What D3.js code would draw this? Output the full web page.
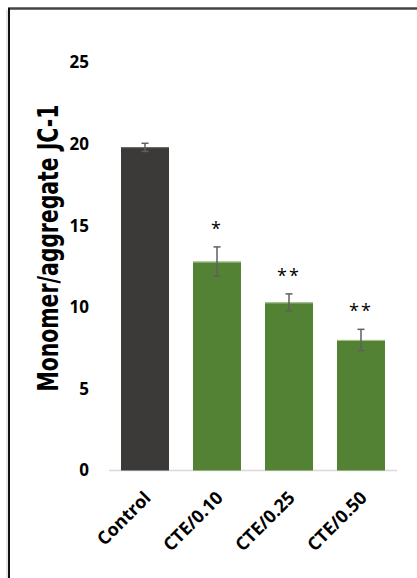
<!DOCTYPE html>
<html>
<head>
<meta charset="utf-8">
<script src="https://cdn.jsdelivr.net/npm/d3@7"></script>
<style>
  body { margin: 0; background: #fff; }
  text { font-family: "Open Sans", "Noto Sans", sans-serif; }
</style>
</head>
<body>
<script>
var w = 417;
var h = 578;

var categories = ["Control", "CTE/0.10", "CTE/0.25", "CTE/0.50"];
var values = [19.8, 12.8, 10.3, 8.0];
var errors = [0.25, 0.9, 0.52, 0.65];
var marks = ["", "*", "**", "**"];
var yTicks = [0, 5, 10, 15, 20, 25];

var svg = d3.select("body")
    .append("svg")
    .attr("width", w)
    .attr("height", h);

// chart frame (cropped on the right and bottom)
svg.append("line")
    .attr("x1", 8).attr("x2", w)
    .attr("y1", 8.5).attr("y2", 8.5)
    .attr("stroke", "#444").attr("stroke-width", 2.5);
svg.append("line")
    .attr("x1", 9).attr("x2", 9)
    .attr("y1", 8).attr("y2", h)
    .attr("stroke", "#111").attr("stroke-width", 2);
svg.append("line")
    .attr("x1", 7).attr("x2", 7)
    .attr("y1", 10).attr("y2", h)
    .attr("stroke", "#ccc").attr("stroke-width", 1);

var xScale = d3.scaleBand()
    .domain(categories)
    .range([109, 397])
    .paddingInner(1 / 3)
    .paddingOuter(1 / 6);

var yScale = d3.scaleLinear()
    .domain([0, 25])
    .range([470.5, 62.5]);

// y tick labels
svg.append("g")
    .selectAll("text")
    .data(yTicks)
    .enter()
    .append("text")
    .attr("x", 89)
    .attr("y", function(d) { return yScale(d); })
    .attr("dy", "0.35em")
    .attr("text-anchor", "end")
    .style("font-size", "17px")
    .style("font-weight", "bold")
    .text(function(d) { return d; });

// baseline
svg.append("line")
    .attr("x1", 109).attr("x2", 397)
    .attr("y1", yScale(0)).attr("y2", yScale(0))
    .attr("stroke", "#d9d9d9").attr("stroke-width", 1.5);

// bars
svg.append("g")
    .selectAll("rect")
    .data(values)
    .enter()
    .append("rect")
    .attr("x", function(d, i) { return xScale(categories[i]); })
    .attr("y", function(d) { return yScale(d); })
    .attr("width", xScale.bandwidth())
    .attr("height", function(d) { return yScale(0) - yScale(d); })
    .attr("fill", function(d, i) { return i === 0 ? "#3b3a38" : "#548235"; });

// light top edge on bars
svg.append("g")
    .selectAll("line")
    .data(values)
    .enter()
    .append("line")
    .attr("x1", function(d, i) { return xScale(categories[i]); })
    .attr("x2", function(d, i) { return xScale(categories[i]) + xScale.bandwidth(); })
    .attr("y1", function(d) { return yScale(d) + 0.5; })
    .attr("y2", function(d) { return yScale(d) + 0.5; })
    .attr("stroke", function(d, i) { return i === 0 ? "#5a5a58" : "#a9c48f"; })
    .attr("stroke-width", 1);

// error bars
var err = svg.append("g")
    .attr("stroke", "#5f5f5f")
    .attr("stroke-width", 1.5);

values.forEach(function(v, i) {
    var cx = xScale(categories[i]) + xScale.bandwidth() / 2;
    var top = yScale(v + errors[i]);
    var bot = yScale(v - errors[i]);
    err.append("line").attr("x1", cx).attr("x2", cx).attr("y1", top).attr("y2", bot);
    err.append("line").attr("x1", cx - 3.5).attr("x2", cx + 3.5).attr("y1", top).attr("y2", top);
    err.append("line").attr("x1", cx - 3.5).attr("x2", cx + 3.5).attr("y1", bot).attr("y2", bot);
});

// significance marks
svg.append("g")
    .selectAll("text")
    .data(marks)
    .enter()
    .append("text")
    .attr("x", function(d, i) { return xScale(categories[i]) + xScale.bandwidth() / 2; })
    .attr("y", function(d, i) { return yScale(values[i] + errors[i]) - 12; })
    .attr("text-anchor", "middle")
    .style("font-size", "18px")
    .style("letter-spacing", "2px")
    .text(function(d) { return d; });

// x labels
svg.append("g")
    .selectAll("text")
    .data(categories)
    .enter()
    .append("text")
    .attr("transform", function(d) {
        var cx = xScale(d) + xScale.bandwidth() / 2;
        return "translate(" + (cx + 7) + "," + 499 + ") rotate(-45)";
    })
    .attr("text-anchor", "end")
    .style("font-size", "18px")
    .style("font-weight", "bold")
    .text(function(d) { return d; });

// y axis title
svg.append("text")
    .attr("transform", "translate(58,248) rotate(-90)")
    .attr("text-anchor", "middle")
    .attr("textLength", 287)
    .attr("lengthAdjust", "spacingAndGlyphs")
    .style("font-family", "'Liberation Sans Narrow', 'DejaVu Sans Condensed', 'Open Sans', sans-serif")
    .style("font-size", "28px")
    .style("font-weight", "bold")
    .text("Monomer/aggregate JC-1");
</script>
</body>
</html>
